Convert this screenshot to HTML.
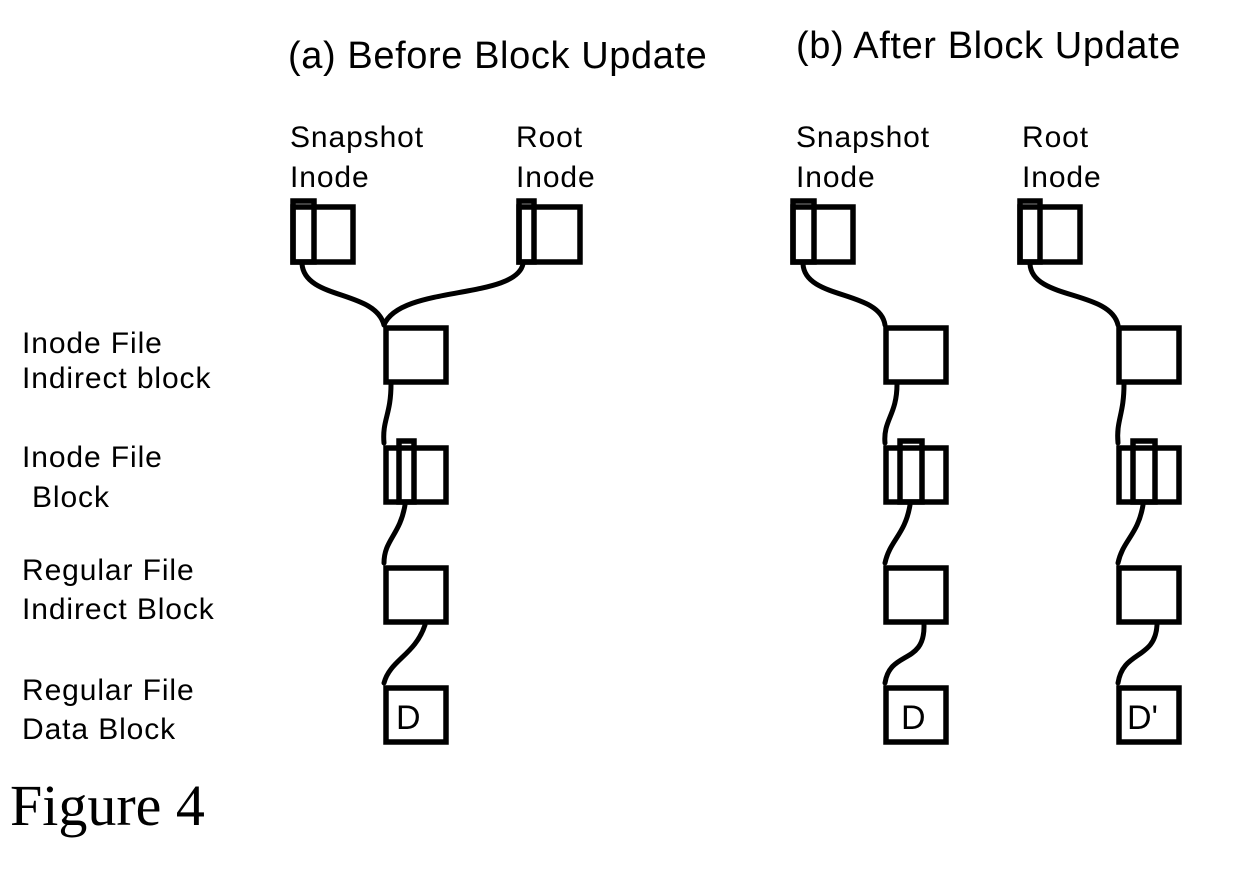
<!DOCTYPE html>
<html><head><meta charset="utf-8"><style>
html,body{margin:0;padding:0;background:#fff;width:1254px;height:870px;overflow:hidden}
svg{display:block}
text{font-family:"Liberation Sans",sans-serif;fill:#000}
.b{fill:none;stroke:#000;stroke-width:5.5}
.c{fill:none;stroke:#000;stroke-width:5;stroke-linecap:round}
</style></head><body>
<svg width="1254" height="870" viewBox="0 0 1254 870">
<text x="288" y="68" font-size="38" letter-spacing="0.6">(a) Before Block Update</text>
<text x="796" y="58" font-size="38" letter-spacing="0.6">(b) After Block Update</text>

<g font-size="30" letter-spacing="0.9">
<text x="290" y="147">Snapshot</text><text x="290" y="187">Inode</text>
<text x="516" y="147">Root</text><text x="516" y="187">Inode</text>
<text x="796" y="147">Snapshot</text><text x="796" y="187">Inode</text>
<text x="1022" y="147">Root</text><text x="1022" y="187">Inode</text>
</g>
<g font-size="30" letter-spacing="0.9">
<text x="22" y="353">Inode File</text><text x="22" y="388">Indirect block</text>
<text x="22" y="467">Inode File</text><text x="32" y="507">Block</text>
<text x="22" y="580">Regular File</text><text x="22" y="619">Indirect Block</text>
<text x="22" y="700">Regular File</text><text x="22" y="739">Data Block</text>
</g>
<text x="10" y="825" font-size="58" style="font-family:'Liberation Serif',serif">Figure 4</text>

<!-- (a) -->
<g>
<rect class="b" x="293" y="207" width="60" height="55"/><rect class="b" x="293" y="201" width="21" height="61"/>
<rect class="b" x="519" y="207" width="61" height="55"/><rect class="b" x="519" y="201" width="15" height="61"/>
<rect class="b" x="386" y="328" width="60" height="54"/>
<rect class="b" x="386" y="448" width="60" height="54"/><rect class="b" x="399" y="441" width="15" height="61"/>
<rect class="b" x="386" y="568" width="60" height="54"/>
<rect class="b" x="386" y="688" width="60" height="54"/>
<text x="396" y="729" font-size="34">D</text>
<path class="c" d="M302 264 C305 300 375 290 384 325"/>
<path class="c" d="M523 264 C515 300 400 285 384 325"/>
<path class="c" d="M391 384 C391 415 382 420 384 443"/>
<path class="c" d="M405 505 C400 535 384 540 384 563"/>
<path class="c" d="M425 625 C415 655 390 660 384 683"/>
</g>
<!-- (b) -->
<g>
<rect class="b" x="793" y="207" width="60" height="55"/><rect class="b" x="793" y="201" width="21" height="61"/>
<rect class="b" x="1020" y="207" width="60" height="55"/><rect class="b" x="1020" y="201" width="20" height="61"/>
<rect class="b" x="886" y="328" width="60" height="54"/><rect class="b" x="1119" y="328" width="60" height="54"/>
<rect class="b" x="886" y="448" width="60" height="54"/><rect class="b" x="900" y="441" width="22" height="61"/>
<rect class="b" x="1119" y="448" width="60" height="54"/><rect class="b" x="1133" y="441" width="22" height="61"/>
<rect class="b" x="886" y="568" width="60" height="54"/><rect class="b" x="1119" y="568" width="60" height="54"/>
<rect class="b" x="886" y="688" width="60" height="54"/><rect class="b" x="1119" y="688" width="60" height="54"/>
<text x="901" y="729" font-size="34">D</text><text x="1127" y="729" font-size="34">D'</text>
<path class="c" d="M803 264 C805 300 880 290 885 325"/>
<path class="c" d="M1030 264 C1032 300 1110 290 1118 325"/>
<path class="c" d="M897 384 C897 415 883 420 885 443"/>
<path class="c" d="M1124 384 C1124 415 1116 420 1118 443"/>
<path class="c" d="M910 505 C905 535 890 540 885 563"/>
<path class="c" d="M1143 505 C1138 535 1123 540 1118 563"/>
<path class="c" d="M924 625 C925 665 890 650 885 683"/>
<path class="c" d="M1157 625 C1155 660 1123 650 1118 683"/>
</g>
</svg>
</body></html>
